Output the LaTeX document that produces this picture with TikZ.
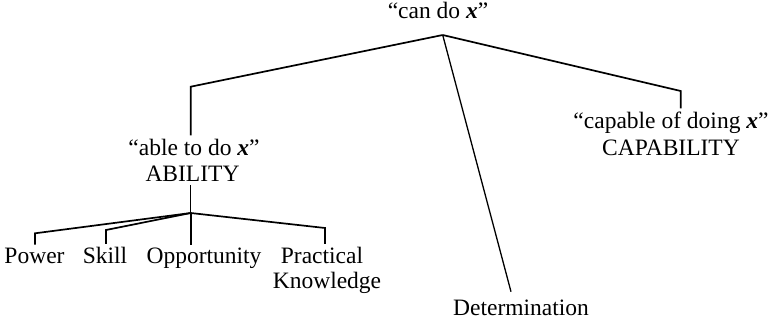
\documentclass[tikz,border=0pt]{standalone}
\usepackage{fontspec}
\setmainfont{Liberation Serif}
\newcommand{\bx}{\textbf{\textit{x}}}
\begin{document}
\begin{tikzpicture}[x=1pt,y=-1pt,
  lbl/.style={anchor=base,inner sep=3pt,font=\fontsize{23.5}{28}\selectfont},
  branch/.style={line width=1.7pt,line join=miter},
  thin branch/.style={line width=1.3pt}]
\useasboundingbox (0,0) rectangle (770,322);
% labels
\node[lbl] (cando) at (438,18) {“can do \bx”};
\node[lbl] (able) at (194,155) {“able to do \bx”};
\node[lbl] (ability) at (192.5,181.7) {ABILITY};
\node[lbl] (capable) at (671,128) {“capable of doing \bx”};
\node[lbl] (capability) at (671,155) {CAPABILITY};
\node[lbl] (power) at (34.5,263.3) {Power};
\node[lbl] (skill) at (105,263.3) {Skill};
\node[lbl] (opp) at (204,263.3) {Opportunity};
\node[lbl] (practical) at (322,263.3) {Practical};
\node[lbl] (knowledge) at (327,288) {Knowledge};
\node[lbl] (determ) at (521,315.7) {Determination};
% junction points
\coordinate (apex) at (442.7,35);
\coordinate (lc) at (190.7,86.7);
\coordinate (rc) at (680.7,91);
\coordinate (dend) at (511,291.7);
\coordinate (sa) at (190.7,213);
\coordinate (pwc) at (35,233.3);
\coordinate (skc) at (106,230);
\coordinate (prc) at (325,228);
% connectors
\draw[branch] (apex) -- (lc) -- (lc |- able.north);
\draw[branch] (apex) -- (rc) -- (rc |- capable.north);
\draw[thin branch] (apex) -- (dend);
\draw[thin branch] (ability.south -| sa) -- (sa);
\draw[branch] (sa) -- (pwc) -- (pwc |- power.north);
\draw[branch] (sa) -- (skc) -- (skc |- skill.north);
\draw[branch] (sa) -- (sa |- opp.north);
\draw[branch] (sa) -- (prc) -- (prc |- practical.north);
\end{tikzpicture}
\end{document}
